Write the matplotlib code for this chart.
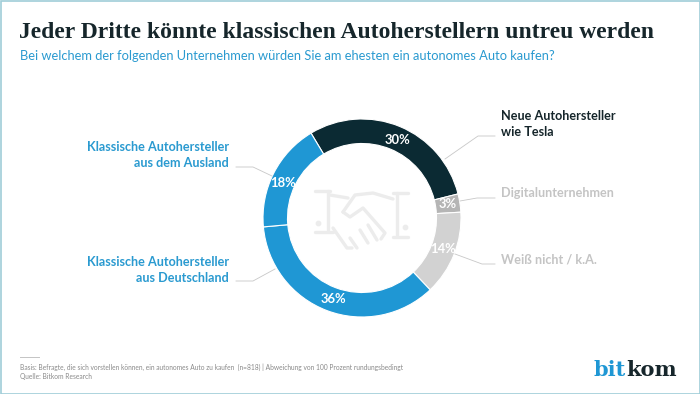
import matplotlib
matplotlib.use("Agg")
import matplotlib.pyplot as plt
from matplotlib.patches import Rectangle

categories = ["Neue Autohersteller\nwie Tesla", "Digitalunternehmen", "Weiß nicht / k.A.",
              "Klassische Autohersteller\naus Deutschland", "Klassische Autohersteller\naus dem Ausland"]
values = [30, 3, 14, 36, 18]
colors = ["#0b2a33", "#b5b5b5", "#d2d2d2", "#1f97d4", "#1f97d4"]
title = "Jeder Dritte könnte klassischen Autoherstellern untreu werden"
subtitle = "Bei welchem der folgenden Unternehmen würden Sie am ehesten ein autonomes Auto kaufen?"
foot1 = "Basis: Befragte, die sich vorstellen können, ein autonomes Auto zu kaufen  (n=818) | Abweichung von 100 Prozent rundungsbedingt"
foot2 = "Quelle: Bitkom Research"

W, H = 700, 394
fig = plt.figure(figsize=(W/100, H/100), dpi=100, facecolor="white")

cx, cy, R = 362, 218, 99
ax = fig.add_axes([(cx-R)/W, 1-(cy+R)/H, 2*R/W, 2*R/H], zorder=1)
wedges, _ = ax.pie(values, colors=colors, startangle=121, counterclock=False, radius=1,
                   wedgeprops=dict(width=24.5/99, edgecolor="white", linewidth=0.8))
ax.set_xlim(-1, 1); ax.set_ylim(-1, 1)

ov = fig.add_axes([0, 0, 1, 1], zorder=2)
ov.set_xlim(0, W); ov.set_ylim(H, 0); ov.axis("off")
ov.add_patch(Rectangle((0.5, 0.5), W-1, H-1, fill=False, ec="#9fcdd8", lw=1.2))

ov.text(19, 32, title, fontsize=17.0, fontweight="bold", family="Liberation Serif", color="#16262b", va="center")
ov.text(20, 56, subtitle, fontsize=9.25, family="Lato", color="#2a9ad0", va="center")

# percentage labels
lab_pos = [(397, 140), (448, 204), (443, 249), (333, 299), (283, 183)]
for (x, y), v in zip(lab_pos, values):
    ov.text(x, y, f"{v}%", color="white", fontsize=9.4, fontweight="bold", family="Lato",
            ha="center", va="center", zorder=5)

# leaders
gl = "#c8c8c8"
ov.plot([445, 478, 495], [159, 136, 136], color=gl, lw=0.6)
ov.plot([460, 477, 495], [201, 198, 198], color=gl, lw=0.6)
ov.plot([455, 482, 495], [254, 264, 264], color=gl, lw=0.6)
ov.plot([272, 253, 236], [176, 167, 167], color=gl, lw=0.6)
ov.plot([275, 253, 236], [269, 281, 281], color=gl, lw=0.6)

# category labels
fs = 9.1
ov.text(501, 124, categories[0], color="#16262b", fontsize=fs, fontweight="bold", family="Lato",
        va="center", linespacing=1.35)
ov.text(501, 193, categories[1], color="#c4c4c4", fontsize=fs, fontweight="bold", family="Lato", va="center")
ov.text(501, 260, categories[2], color="#c4c4c4", fontsize=fs, fontweight="bold", family="Lato", va="center")
ov.text(229, 155, categories[4], color="#2a9ad0", fontsize=fs, fontweight="bold", family="Lato",
        va="center", ha="right", linespacing=1.35)
ov.text(229, 270, categories[3], color="#2a9ad0", fontsize=fs, fontweight="bold", family="Lato",
        va="center", ha="right", linespacing=1.35)

# handshake icon
ic = "#ececec"
for xs, ys in [([315, 330], [191, 191]), ([328, 328], [191, 230]), ([315, 333], [232, 232]),
               ([393, 408], [193, 193]), ([397, 397], [193, 235]), ([393, 408], [237, 237]),
               ([343, 355, 373, 393], [212, 195, 193, 199]),
               ([343, 350, 363, 385, 381], [212, 217, 208, 233, 239]),
               ([330, 342, 348], [195, 197, 198]),
               ([333, 347, 352], [228, 248, 248]),
               ([350, 357], [238, 248]), ([360, 368], [230, 243]), ([368, 377], [225, 240])]:
    ov.plot(xs, ys, color=ic, lw=2.4, solid_capstyle="round", zorder=4)
ov.scatter([318, 405], [223, 227], s=10, color=ic, zorder=4)

# footer
ov.plot([20, 39], [357, 357], color="#c4c4c4", lw=0.7)
ov.text(20, 367, foot1, fontsize=4.75, family="Lato", color="#8a8a8a", va="center")
ov.text(20, 376, foot2, fontsize=4.75, family="Lato", color="#8a8a8a", va="center")

# logo
t = ov.text(594, 370, "bit", fontsize=15, fontweight="bold", family="DejaVu Serif", color="#1f97d4", va="center")
fig.canvas.draw()
bb = t.get_window_extent()
ov.text(bb.x1 * W / fig.bbox.width, 370, "kom", fontsize=15, fontweight="bold", family="DejaVu Serif", color="#16262b", va="center")

fig.savefig("out.png", dpi=100)
